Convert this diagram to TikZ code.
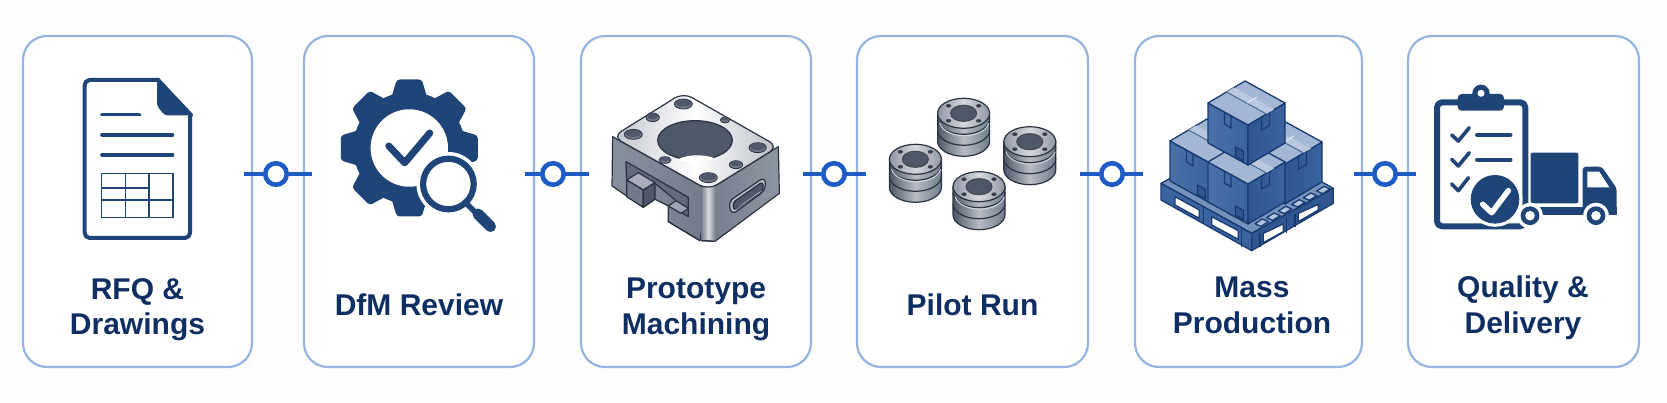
\documentclass[tikz,border=0pt]{standalone}
\usepackage{fontspec}
\setmainfont{Liberation Sans}
\definecolor{bgc}{HTML}{FDFDFE}
\definecolor{edgec}{HTML}{95B5E0}
\definecolor{linkc}{HTML}{1F5BC4}
\definecolor{txtc}{HTML}{0F2F63}
\definecolor{navy}{HTML}{1F4478}
\definecolor{mdark}{HTML}{2A3242}
\definecolor{mhole}{HTML}{4F5868}
\definecolor{mmid}{HTML}{737B8B}
\definecolor{mlight}{HTML}{D5D8DE}
\definecolor{boxl}{HTML}{3A64A0}
\definecolor{boxr}{HTML}{2F568F}
\definecolor{boxt}{HTML}{A3B6D4}
\definecolor{boxe}{HTML}{173A70}
\tikzset{
  card/.style={draw=edgec,line width=2.2pt,rounded corners=24pt,fill=white,inner sep=0pt,minimum width=#1,minimum height=331pt},
  linkline/.style={draw=linkc,line width=4pt},
  ringnode/.style={circle,draw=linkc,line width=4.6pt,fill=white,minimum size=21.5pt,inner sep=0pt},
  lbl/.style={text=txtc,font=\fontsize{30}{35.5}\selectfont\bfseries,align=center,anchor=center,inner sep=0pt},
  ink/.style={fill=navy},
  inkline/.style={draw=navy,line width=#1,line cap=round,line join=round},
  thingrid/.style={draw=navy,line width=1.5pt},
  boxedge/.style={draw=boxe,line width=1.3pt,line join=round},
  metal/.style={draw=mdark,line width=1.2pt,line join=round},
}
\newcommand{\isobx}[2]{%
\begin{scope}[shift={(#1,#2)}]
 \path[boxedge,left color=boxl!92!white,right color=boxl] (0,0)--(-40,-22)--(-40,18)--(0,40)--cycle;
 \path[boxedge,left color=boxr,right color=boxl] (0,0)--(37,-22)--(37,18)--(0,40)--cycle;
 \path[boxedge,fill=boxt] (0,0)--(-40,-22)--(-3,-44)--(37,-22)--cycle;
 \fill[boxt!75!white] (-21.5,-33)--(-14,-37.5)--(26,-15.5)--(18.5,-11)--cycle;
 \draw[boxe!70!boxt,line width=.9pt] (-21.5,-33)--(18.5,-11);
 \draw[white!75!boxt,line width=.9pt] (-1,-22)--(9,-28);
 \draw[boxe,line width=1.2pt] (-23.5,-13)--(-23.5,-1)--(-17,3)--(-17,-9.5);
 \draw[boxe,line width=1.2pt] (13.5,-8)--(13.5,5)--(21.5,.5)--(21.5,-13);
 \draw[boxe,line width=1.2pt,fill=boxr] (-12.5,22)--(-4.5,26.5)--(-4.5,36)--(-12.5,31.5)--cycle;
\end{scope}}
\newcommand{\stackdisc}[2]{%
\begin{scope}[shift={(#1,#2+15)}]
 \path[draw=mdark,line width=1.2pt,left color=mhole,right color=mmid,middle color=mlight!70!mmid]
   (-26,0)--(-26,28) arc[start angle=180,end angle=0,x radius=26,y radius=15]--(26,0)--cycle;
 \draw[mdark,line width=1.2pt] (-26,6) arc[start angle=180,end angle=0,x radius=26,y radius=15];
 \draw[mdark,line width=1.2pt] (-26,17) arc[start angle=180,end angle=0,x radius=26,y radius=15];
 \draw[mlight,line width=1pt] (-24,10) arc[start angle=170,end angle=10,x radius=25,y radius=15];
 \path[draw=mdark,line width=1.2pt,left color=mmid!70!mlight,right color=mmid!70!mlight,middle color=mlight] (0,0) ellipse[x radius=26,y radius=15];
 \draw[mmid!60!black,line width=1.2pt,fill=mhole] (0,0) ellipse[x radius=13,y radius=8];
 \foreach \dx/\dy in {-15/-7.5,15/-7.5,-15/7.5,15/7.5}
   \fill[mhole!70!black] (\dx,\dy) ellipse[x radius=2.6,y radius=1.8];
\end{scope}}
\newcommand{\mhole}[4]{%
 \draw[mdark,line width=.8pt,fill=mmid] (#1,#2) ellipse[x radius=#3,y radius=#4];
 \fill[mhole] (#1,#2-3) ellipse[x radius=#3-4,y radius=#4-4];}
\begin{document}
\begin{tikzpicture}[x=1pt,y=-1pt]
\useasboundingbox (0,0) rectangle (1667,403);
\fill[bgc] (0,0) rectangle (1667,403);
% cards
\node[card=229pt] (b1) at (137.5,201.5) {};
\node[card=230pt] (b2) at (419,201.5) {};
\node[card=230pt] (b3) at (696,201.5) {};
\node[card=231pt] (b4) at (972.5,201.5) {};
\node[card=227pt] (b5) at (1248.5,201.5) {};
\node[card=231pt] (b6) at (1523.5,201.5) {};
% connectors
\node[ringnode] (r1) at (276,174) {};
\node[ringnode] (r2) at (553,174) {};
\node[ringnode] (r3) at (834,174) {};
\node[ringnode] (r4) at (1112,174) {};
\node[ringnode] (r5) at (1385,174) {};
\coordinate (a1) at (244,174); \coordinate (c1) at (312,174);
\coordinate (a2) at (525,174); \coordinate (c2) at (589,174);
\coordinate (a3) at (803,174); \coordinate (c3) at (866,174);
\coordinate (a4) at (1080,174); \coordinate (c4) at (1143,174);
\coordinate (a5) at (1354,174); \coordinate (c5) at (1416,174);
\foreach \i in {1,...,5} {
  \draw[linkline] (a\i) -- (r\i);
  \draw[linkline] (r\i) -- (c\i);
}
% labels
\node[lbl] (t1) at (137.5,309.5) {RFQ \&\\Drawings};
\node[lbl] (t2) at (419,305) {DfM Review};
\node[lbl] (t3) at (696,309.5) {Prototype\\Machining};
\node[lbl] (t4) at (972.5,305) {Pilot Run};
\node[lbl] (t5) at (1252,305.5) {Mass\\Production};
\node[lbl] (t6) at (1523,307.5) {Quality \&\\Delivery};
% ---- document
\draw[inkline=4pt,fill=white,rounded corners=5pt] (158,80)--(84.7,80)--(84.7,238)--(190,238)--(190,115);
\draw[inkline=4pt] (158,80)--(191,115);
\path[ink,rounded corners=3pt] (157,78)--(157,106)--(165,115.5)--(192,115.5)--(159,78)--cycle;
\draw[inkline=3.6pt] (102,114.7)--(139.5,114.7);
\draw[inkline=3.6pt] (102,135)--(172.5,135);
\draw[inkline=3.6pt] (102,155)--(172.5,155);
\draw[thingrid] (101.6,173.7) rectangle (173,217.7);
\draw[thingrid] (125.7,173.7)--(125.7,217.7) (148.8,173.7)--(148.8,217.7)
  (101.6,188)--(148.8,188) (101.6,200)--(173,200);
% ---- gear
\begin{scope}[shift={(409.3,148)}]
 \fill[ink] (0,0) circle (56);
 \foreach \a in {0,45,...,315}
   \path[ink,rotate=\a,rounded corners=3pt] (-18,-50)--(-12.5,-68.5)--(12.5,-68.5)--(18,-50)--cycle;
 \fill[white] (0,0) circle (38.7);
 \draw[inkline=7pt] (-20.5,-2)--(-4.6,14.8)--(20.5,-15);
\end{scope}
\fill[white] (448.4,184) circle (32);
\draw[navy,line width=6.2pt] (448.4,184) circle (25.3);
\draw[inkline=5.5pt] (465,202)--(477,214);
\draw[inkline=11pt] (478,214)--(490.5,226.5);
% ---- machined block
\begin{scope}[shift={(600,80)},scale=1/3]
 \path[metal,left color=mmid!85!white,right color=mmid] (38,170)--(36,318)--(130,382)--(165,358)--(205,378)--(205,425)--(300,482)--(325,330)--cycle;
 \path[metal,left color=mmid,right color=mmid!80!white] (325,330)--(535,200)--(538,340)--(345,484)--(305,482)--cycle;
 \path[left color=mmid,right color=mmid,middle color=mlight!90!white] (303,322)--(347,312)--(347,482)--(303,480)--cycle;
 \draw[metal] (305,482)--(345,484);
 % left slot
 \path[metal,fill=mmid!55!mhole] (78,245)--(265,352)--(265,410)--(228,388)--(228,362)--(165,310)--(130,330)--(80,300)--cycle;
 \path[metal,fill=mlight!55!mmid] (80,300)--(115,278)--(165,308)--(130,330)--cycle;
 \path[metal,fill=mmid] (80,300)--(130,330)--(130,382)--(80,350)--cycle;
 \path[metal,fill=mhole] (130,330)--(165,308)--(165,358)--(130,382)--cycle;
 \path[metal,fill=mlight!45!mmid] (205,378)--(228,362)--(265,385)--(243,400)--cycle;
 \path[fill=white] (165,358)--(205,378)--(205,425)--(165,405)--(131,384)--cycle;
 \draw[metal] (130,382)--(165,358)--(205,378)--(205,425)--(300,482);
 % right slot
 \path[metal,fill=mlight!70!mmid,rounded corners=6pt] (385,365)--(495,290)--(497,330)--(395,405)--cycle;
 \path[metal,fill=mhole,rounded corners=3pt] (398,368)--(488,305)--(490,332)--(402,392)--cycle;
 \path[fill=mlight!70!mmid] (430,370)--(478,336)--(488,332)--(402,392)--cycle;
 % top
 \path[metal,rounded corners=10pt,left color=mlight!80!mmid,right color=mlight!70!mmid,middle color=white] (250,38)--(38,170)--(325,330)--(535,200)--cycle;
 \draw[metal,fill=mhole] (285,181) ellipse[x radius=112,y radius=59];
 \path[fill=white] (228,240) .. controls (265,222) and (310,222) .. (345,235) .. controls (310,248) and (260,250) .. (228,240) -- cycle;
 \mhole{250}{72}{27}{15}
 \mhole{158}{112}{20}{13}
 \mhole{100}{163}{27}{15}
 \mhole{375}{120}{14}{9}
 \mhole{473}{203}{26}{15}
 \mhole{195}{240}{18}{10}
 \mhole{408}{254}{20}{12}
 \mhole{325}{293}{27}{15}
\end{scope}
% ---- stacks
\stackdisc{963.6}{98.3}
\stackdisc{1029.8}{126.7}
\stackdisc{915.4}{144.3}
\stackdisc{979}{171.7}
% ---- pallet
\begin{scope}[shift={(1060,20)},scale=1/3]
 \path[boxedge,fill=boxl!70!white] (303,490)--(575,640)--(820,505)--(550,355)--cycle;
 \path[boxedge,fill=boxl] (303,490)--(575,640)--(575,692)--(303,540)--cycle;
 \path[boxedge,fill=boxr] (575,640)--(820,505)--(820,550)--(575,692)--cycle;
 \path[boxedge,fill=white] (345,530)--(418,570)--(418,595)--(345,555)--cycle;
 \path[boxedge,fill=white] (455,590)--(535,632)--(535,658)--(455,615)--cycle;
 \path[boxedge,fill=white] (610,640)--(670,612)--(670,635)--(610,668)--cycle;
 \path[boxedge,fill=white] (715,580)--(775,553)--(775,570)--(715,605)--cycle;
 \draw[boxedge] (430,560)--(430,610) (545,625)--(545,680) (600,640)--(600,680) (680,595)--(680,640) (705,582)--(705,620);
 \foreach \cx/\cy in {605/608,640/590,675/570,715/550,750/530,790/510}
   \path[boxedge,fill=boxt!80!white] (\cx-20,\cy+3)--(\cx+2,\cy-11)--(\cx+20,\cy-3)--(\cx-2,\cy+11)--cycle;
\end{scope}
% ---- boxes
\isobx{1210}{163}
\isobx{1285}{164}
\isobx{1248}{184}
\isobx{1248}{125}
% ---- clipboard and truck
\draw[inkline=6pt,rounded corners=5pt,fill=white] (1437,102.3) rectangle (1525.3,226.3);
\path[ink,rounded corners=4pt] (1457.7,94) rectangle (1504,110.7);
\fill[navy] (1481,93.3) circle (8.7);
\fill[white] (1481,93.3) circle (3.5);
\draw[inkline=3.6pt] (1451.7,135)--(1458.3,141)--(1469.3,127.7);
\draw[inkline=3.6pt] (1451.7,159.3)--(1458.3,166)--(1469.3,152.7);
\draw[inkline=3.6pt] (1451.7,184)--(1458.3,190.7)--(1468.5,177.7);
\draw[inkline=4pt] (1477,135)--(1510.5,135);
\draw[inkline=4pt] (1477,159.7)--(1510.5,159.7);
\path[ink,rounded corners=2pt] (1530.7,152.7) rectangle (1578.3,203.3);
\fill[navy] (1540,206.7) rectangle (1617,215);
\path[ink,rounded corners=3pt] (1582.7,166.7)--(1601.7,166.7)--(1616.7,188.3)--(1616.7,215)--(1582.7,215)--cycle;
\fill[white] (1587.3,171.7)--(1599.3,171.7)--(1609.3,187.3)--(1587.3,187.3)--cycle;
\fill[white] (1596,215.7) circle (13);
\fill[navy] (1596,215.7) circle (9.4);
\fill[white] (1596,215.7) circle (4.8);
\fill[white] (1530,215.7) circle (13);
\fill[navy] (1530,215.7) circle (9.4);
\fill[white] (1530,215.7) circle (4.8);
\fill[white] (1495,199.3) circle (27.5);
\fill[navy] (1495,199.3) circle (24.3);
\draw[white,line width=5.5pt,line cap=round,line join=round] (1482.7,204.3)--(1491.7,212.7)--(1508.3,190.7);
\end{tikzpicture}
\end{document}
